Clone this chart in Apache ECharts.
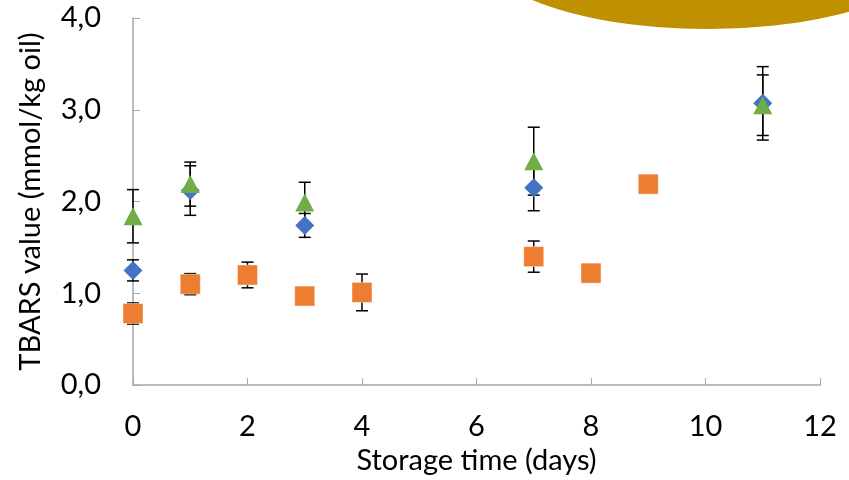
<!DOCTYPE html>
<html>
<head>
<meta charset="utf-8">
<script src="https://cdn.jsdelivr.net/npm/echarts@6/dist/echarts.min.js"></script>
<style>
  html, body { margin: 0; padding: 0; background: #fff; }
  #chart { width: 849px; height: 480px; }
</style>
</head>
<body>
<div id="chart"></div>
<script>
// storage days and TBARS values
var blueDays = [0, 1, 3, 7, 11];
var blueValues = [1.25, 2.12, 1.74, 2.15, 3.07];
var blueErrors = [0.115, 0.27, 0.13, 0.25, 0.40];

var orangeDays = [0, 1, 2, 3, 4, 7, 8, 9];
var orangeValues = [0.78, 1.10, 1.20, 0.97, 1.01, 1.40, 1.22, 2.19];
var orangeErrors = [0.115, 0.115, 0.14, 0, 0.20, 0.17, 0, 0];

var greenDays = [0, 1, 3, 7, 11];
var greenValues = [1.84, 2.19, 1.99, 2.44, 3.05];
var greenErrors = [0.29, 0.24, 0.22, 0.37, 0.33];

var xTicks = [0, 2, 4, 6, 8, 10, 12];
var yTicks = ['0,0', '1,0', '2,0', '3,0', '4,0'];

var colors = ['#4472C4', '#ED7D31', '#70AD47'];
var fontName = 'Lato';
var fontSize = 29;

function pairs(xs, ys) {
  return xs.map(function (x, i) { return [x, ys[i]]; });
}

// all error bars go in one custom series, beneath the markers
var errData = [];
[[blueDays, blueValues, blueErrors], [orangeDays, orangeValues, orangeErrors], [greenDays, greenValues, greenErrors]]
  .forEach(function (s) {
    s[0].forEach(function (d, i) {
      if (s[2][i] > 0) errData.push([d, s[1][i] - s[2][i], s[1][i] + s[2][i]]);
    });
  });

function renderErr(params, api) {
  var lo = api.coord([api.value(0), api.value(1)]);
  var hi = api.coord([api.value(0), api.value(2)]);
  var w = 6;
  var st = { stroke: '#000', lineWidth: 1.5 };
  return {
    type: 'group',
    children: [
      { type: 'line', shape: { x1: lo[0], y1: lo[1], x2: hi[0], y2: hi[1] }, style: st },
      { type: 'line', shape: { x1: lo[0] - w, y1: lo[1], x2: lo[0] + w, y2: lo[1] }, style: st },
      { type: 'line', shape: { x1: hi[0] - w, y1: hi[1], x2: hi[0] + w, y2: hi[1] }, style: st }
    ]
  };
}

var chart = echarts.init(document.getElementById('chart'));

var option = {
  animation: false,
  backgroundColor: '#fff',
  textStyle: { fontFamily: fontName },
  grid: { left: 133, right: 29, top: 18, bottom: 92 },
  graphic: [{
    type: 'ellipse',
    shape: { cx: 708, cy: -51, rx: 228, ry: 80 },
    style: { fill: '#BF9000' },
    z: 100
  }],
  xAxis: {
    type: 'value',
    min: 0, max: 12, interval: 2,
    name: 'Storage time (days)',
    nameLocation: 'middle',
    nameGap: 59,
    nameTextStyle: { fontSize: fontSize, color: '#000', fontFamily: fontName },
    axisLine: { lineStyle: { color: '#A6A6A6', width: 1.5 } },
    axisTick: { inside: true, length: 7, lineStyle: { color: '#A6A6A6' } },
    axisLabel: {
      fontSize: fontSize, color: '#000', margin: 27, fontFamily: fontName,
      formatter: function (v) { return xTicks.indexOf(v) >= 0 ? String(v) : ''; }
    },
    splitLine: { show: false }
  },
  yAxis: {
    type: 'value',
    min: 0, max: 4, interval: 1,
    name: 'TBARS value (mmol/kg oil)',
    nameLocation: 'middle',
    nameGap: 88,
    nameTextStyle: { fontSize: fontSize, color: '#000', fontFamily: fontName },
    axisLine: { show: true, lineStyle: { color: '#A6A6A6', width: 1.5 } },
    axisTick: { show: true, inside: true, length: 7, lineStyle: { color: '#A6A6A6' } },
    axisLabel: {
      fontSize: fontSize, color: '#000', margin: 32, fontFamily: fontName,
      formatter: function (v) { return yTicks[Math.round(v)]; }
    },
    splitLine: { show: false }
  },
  series: [
    {
      type: 'custom',
      renderItem: renderErr,
      data: errData,
      encode: { x: 0, y: [1, 2] },
      z: 1,
      silent: true
    },
    {
      name: 'blue',
      type: 'scatter',
      symbol: 'diamond',
      symbolSize: [19, 19],
      itemStyle: { color: colors[0], opacity: 1 },
      data: pairs(blueDays, blueValues),
      z: 2
    },
    {
      name: 'orange',
      type: 'scatter',
      symbol: 'rect',
      symbolSize: [20, 20],
      itemStyle: { color: colors[1], opacity: 1, borderColor: 'rgba(255,255,255,0.4)', borderWidth: 1 },
      data: pairs(orangeDays, orangeValues),
      z: 3
    },
    {
      name: 'green',
      type: 'scatter',
      symbol: 'triangle',
      symbolSize: [19, 18],
      itemStyle: { color: colors[2], opacity: 1 },
      data: pairs(greenDays, greenValues),
      z: 4
    }
  ]
};

chart.setOption(option);
</script>
</body>
</html>
